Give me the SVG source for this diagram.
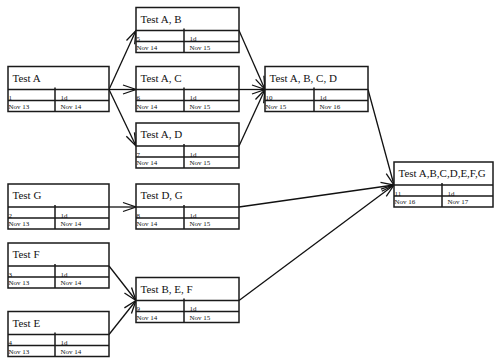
<svg xmlns="http://www.w3.org/2000/svg" width="494" height="358" viewBox="0 0 494 358">
<defs>
<style>
.box{fill:#fff;stroke:#1a1a1a;stroke-width:1.5}
.ln{stroke:#1a1a1a;stroke-width:1.5;fill:none}
.t{font-family:"Liberation Serif","Times New Roman",serif;font-size:11px;fill:#111}
.s{font-family:"Liberation Serif","Times New Roman",serif;font-size:7px;fill:#111}
.c{stroke:#111;stroke-width:1.3;fill:none}
</style>
<marker id="arr" markerUnits="userSpaceOnUse" markerWidth="16" markerHeight="12" viewBox="-14 -6 16 12" refX="0" refY="0" orient="auto">
<path d="M-13,-4.5 L0,0 L-13,4.5" fill="none" stroke="#111" stroke-width="1.3"/>
</marker>
</defs>
<rect width="494" height="358" fill="#fff"/>
<g id="connectors">
<line class="c" x1="109" y1="89.5" x2="136" y2="30.5" marker-end="url(#arr)"/>
<line class="c" x1="109" y1="89.5" x2="136" y2="89.5" marker-end="url(#arr)"/>
<line class="c" x1="109" y1="89.5" x2="136" y2="146" marker-end="url(#arr)"/>
<line class="c" x1="239" y1="30.5" x2="265" y2="89.5" marker-end="url(#arr)"/>
<line class="c" x1="239" y1="89.5" x2="265" y2="89.5" marker-end="url(#arr)"/>
<line class="c" x1="239" y1="146" x2="265" y2="89.5" marker-end="url(#arr)"/>
<line class="c" x1="368" y1="89.5" x2="394" y2="185" marker-end="url(#arr)"/>
<line class="c" x1="109" y1="207" x2="136" y2="207" marker-end="url(#arr)"/>
<line class="c" x1="239" y1="207" x2="394" y2="185" marker-end="url(#arr)"/>
<line class="c" x1="109" y1="266" x2="136" y2="300.5" marker-end="url(#arr)"/>
<line class="c" x1="109" y1="334.5" x2="136" y2="300.5" marker-end="url(#arr)"/>
<line class="c" x1="239" y1="300.5" x2="394" y2="185" marker-end="url(#arr)"/>
</g>
<g id="node-1" transform="translate(8,66.5)">
<rect class="box" width="101" height="45"/>
<path class="ln" d="M0,23H101M0,34H101M47,21V45"/>
<text class="t" x="4.5" y="15">Test A</text>
<text class="s" x="0.5" y="33.5">1</text><text class="s" x="52.5" y="33.5">1d</text>
<text class="s" x="0.5" y="42">Nov 13</text><text class="s" x="52.5" y="42">Nov 14</text>
</g>
<g id="node-5" transform="translate(136,7.5)">
<rect class="box" width="103" height="45"/>
<path class="ln" d="M0,23H103M0,34H103M48,21V45"/>
<text class="t" x="4.5" y="15">Test A, B</text>
<text class="s" x="0.5" y="33.5">5</text><text class="s" x="53.5" y="33.5">1d</text>
<text class="s" x="0.5" y="42">Nov 14</text><text class="s" x="53.5" y="42">Nov 15</text>
</g>
<g id="node-6" transform="translate(136,66.5)">
<rect class="box" width="103" height="45"/>
<path class="ln" d="M0,23H103M0,34H103M48,21V45"/>
<text class="t" x="4.5" y="15">Test A, C</text>
<text class="s" x="0.5" y="33.5">6</text><text class="s" x="53.5" y="33.5">1d</text>
<text class="s" x="0.5" y="42">Nov 14</text><text class="s" x="53.5" y="42">Nov 15</text>
</g>
<g id="node-7" transform="translate(136,123)">
<rect class="box" width="103" height="45"/>
<path class="ln" d="M0,23H103M0,34H103M48,21V45"/>
<text class="t" x="4.5" y="15">Test A, D</text>
<text class="s" x="0.5" y="33.5">7</text><text class="s" x="53.5" y="33.5">1d</text>
<text class="s" x="0.5" y="42">Nov 14</text><text class="s" x="53.5" y="42">Nov 15</text>
</g>
<g id="node-10" transform="translate(265,66.5)">
<rect class="box" width="103" height="45"/>
<path class="ln" d="M0,23H103M0,34H103M49,21V45"/>
<text class="t" x="4.5" y="15">Test A, B, C, D</text>
<text class="s" x="0.5" y="33.5">10</text><text class="s" x="54.5" y="33.5">1d</text>
<text class="s" x="0.5" y="42">Nov 15</text><text class="s" x="54.5" y="42">Nov 16</text>
</g>
<g id="node-2" transform="translate(8,184)">
<rect class="box" width="101" height="45"/>
<path class="ln" d="M0,23H101M0,34H101M47,21V45"/>
<text class="t" x="4.5" y="15">Test G</text>
<text class="s" x="0.5" y="33.5">2</text><text class="s" x="52.5" y="33.5">1d</text>
<text class="s" x="0.5" y="42">Nov 13</text><text class="s" x="52.5" y="42">Nov 14</text>
</g>
<g id="node-8" transform="translate(136,184)">
<rect class="box" width="103" height="45"/>
<path class="ln" d="M0,23H103M0,34H103M48,21V45"/>
<text class="t" x="4.5" y="15">Test D, G</text>
<text class="s" x="0.5" y="33.5">8</text><text class="s" x="53.5" y="33.5">1d</text>
<text class="s" x="0.5" y="42">Nov 14</text><text class="s" x="53.5" y="42">Nov 15</text>
</g>
<g id="node-3" transform="translate(8,243)">
<rect class="box" width="101" height="45"/>
<path class="ln" d="M0,23H101M0,34H101M47,21V45"/>
<text class="t" x="4.5" y="15">Test F</text>
<text class="s" x="0.5" y="33.5">3</text><text class="s" x="52.5" y="33.5">1d</text>
<text class="s" x="0.5" y="42">Nov 13</text><text class="s" x="52.5" y="42">Nov 14</text>
</g>
<g id="node-4" transform="translate(8,311.5)">
<rect class="box" width="101" height="45"/>
<path class="ln" d="M0,23H101M0,34H101M47,21V45"/>
<text class="t" x="4.5" y="15">Test E</text>
<text class="s" x="0.5" y="33.5">4</text><text class="s" x="52.5" y="33.5">1d</text>
<text class="s" x="0.5" y="42">Nov 13</text><text class="s" x="52.5" y="42">Nov 14</text>
</g>
<g id="node-9" transform="translate(136,277.5)">
<rect class="box" width="103" height="45"/>
<path class="ln" d="M0,23H103M0,34H103M48,21V45"/>
<text class="t" x="4.5" y="15">Test B, E, F</text>
<text class="s" x="0.5" y="33.5">9</text><text class="s" x="53.5" y="33.5">1d</text>
<text class="s" x="0.5" y="42">Nov 14</text><text class="s" x="53.5" y="42">Nov 15</text>
</g>
<g id="node-11" transform="translate(394,162)">
<rect class="box" width="99" height="45"/>
<path class="ln" d="M0,23H99M0,34H99M48,21V45"/>
<text class="t" x="4.5" y="15">Test A,B,C,D,E,F,G</text>
<text class="s" x="0.5" y="33.5">11</text><text class="s" x="53.5" y="33.5">1d</text>
<text class="s" x="0.5" y="42">Nov 16</text><text class="s" x="53.5" y="42">Nov 17</text>
</g>
</svg>
